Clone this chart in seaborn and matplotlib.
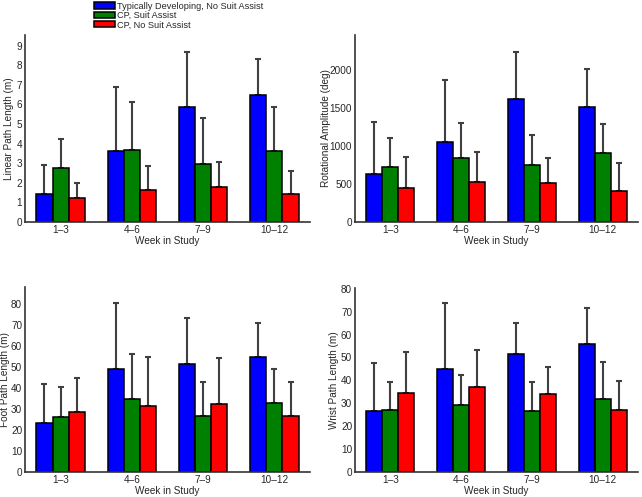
import numpy as np
import pandas as pd
import matplotlib
matplotlib.use("Agg")
import matplotlib.pyplot as plt
import seaborn as sns

weeks = ["1\u20133", "4\u20136", "7\u20139", "10\u201312"]
groups = ["Typically Developing, No Suit Assist", "CP, Suit Assist", "CP, No Suit Assist"]
colors = ["#0000ff", "#008000", "#ff0000"]

# Linear path length (m): means and upper error-bar tops
linear_td = [1.45, 3.61, 5.85, 6.48]
linear_td_top = [2.90, 6.87, 8.66, 8.33]
linear_cps = [2.77, 3.68, 2.97, 3.61]
linear_cps_top = [4.23, 6.10, 5.30, 5.86]
linear_cpn = [1.23, 1.63, 1.80, 1.43]
linear_cpn_top = [2.01, 2.86, 3.07, 2.62]

# Rotational amplitude (deg)
rot_td = [637, 1049, 1624, 1518]
rot_td_top = [1319, 1876, 2243, 2022]
rot_cps = [730, 841, 752, 907]
rot_cps_top = [1106, 1310, 1150, 1296]
rot_cpn = [451, 527, 509, 407]
rot_cpn_top = [858, 929, 845, 779]

# Foot path length (m)
foot_td = [23.4, 49.3, 51.6, 55.1]
foot_td_top = [42.0, 80.6, 73.3, 71.3]
foot_cps = [26.3, 34.7, 26.5, 33.1]
foot_cps_top = [40.4, 56.1, 42.9, 49.0]
foot_cpn = [28.7, 31.7, 32.5, 26.9]
foot_cpn_top = [45.0, 54.7, 54.5, 43.1]

# Wrist path length (m)
wrist_td = [26.7, 44.9, 51.6, 55.7]
wrist_td_top = [47.4, 73.6, 65.2, 71.4]
wrist_cps = [27.0, 29.1, 26.5, 31.9]
wrist_cps_top = [39.3, 42.2, 39.3, 48.1]
wrist_cpn = [34.3, 37.2, 34.1, 27.1]
wrist_cpn_top = [52.5, 53.3, 45.7, 39.7]

sns.set_theme(style="white")
plt.rcParams["font.family"] = ["Liberation Sans", "DejaVu Sans"]

fig = plt.figure(figsize=(6.42, 4.97), dpi=100)

panels = [
    ([0.0389, 0.5533, 0.444, 0.3763], "Linear Path Length (m)",
     (linear_td, linear_cps, linear_cpn), (linear_td_top, linear_cps_top, linear_cpn_top),
     9.54, np.arange(0, 10, 1), -0.039),
    ([0.553, 0.5533, 0.441, 0.3763], "Rotational Amplitude (deg)",
     (rot_td, rot_cps, rot_cpn), (rot_td_top, rot_cps_top, rot_cpn_top),
     2465, [0, 500, 1000, 1500, 2000], -0.085),
    ([0.0389, 0.0503, 0.444, 0.372], "Foot Path Length (m)",
     (foot_td, foot_cps, foot_cpn), (foot_td_top, foot_cps_top, foot_cpn_top),
     88.2, np.arange(0, 90, 10), -0.052),
    ([0.553, 0.0503, 0.441, 0.3702], "Wrist Path Length (m)",
     (wrist_td, wrist_cps, wrist_cpn), (wrist_td_top, wrist_cps_top, wrist_cpn_top),
     80.3, np.arange(0, 90, 10), -0.057),
]

txtc = "#262626"
axes = []
for rect, ylabel, means, tops, ymax, yticks, lx in panels:
    ax = fig.add_axes(rect)
    rows = []
    for g, m, t in zip(groups, means, tops):
        for w, mv, tv in zip(weeks, m, t):
            rows.append({"week": w, "group": g, "mean": mv, "top": tv})
    df = pd.DataFrame(rows)
    sns.barplot(data=df, x="week", y="mean", hue="group", hue_order=groups,
                order=weeks, palette=colors, width=0.68, errorbar=None,
                edgecolor="black", linewidth=1.1, saturation=1, ax=ax, legend=True)
    # one-sided error bars drawn from bar positions
    cont = list(ax.containers)
    for gi, bars in enumerate(cont):
        for bi, bar in enumerate(bars):
            x = bar.get_x() + bar.get_width() / 2
            m = means[gi][bi]
            t = tops[gi][bi]
            ax.errorbar([x], [m], yerr=[[0], [t - m]], fmt="none",
                        ecolor="#404040", elinewidth=1.5, capsize=2,
                        capthick=1.5, zorder=1)
    for bars in cont:
        for bar in bars:
            bar.set_zorder(2)
    ax.set_xlim(-0.5, 3.5)
    ax.set_ylim(0, ymax)
    ax.set_yticks(yticks)
    ax.set_ylabel(ylabel, fontsize=7.2, color=txtc)
    ax.yaxis.set_label_coords(lx, 0.5)
    ax.set_xlabel("Week in Study", fontsize=7.2, color=txtc, labelpad=1)
    ax.tick_params(axis="both", length=0, labelsize=7.2, colors=txtc, pad=2)
    for s in ["top", "right"]:
        ax.spines[s].set_visible(False)
    for s in ["left", "bottom"]:
        ax.spines[s].set_color("#333333")
        ax.spines[s].set_linewidth(1.2)
    handles, labels = ax.get_legend_handles_labels()
    if ax.get_legend() is not None:
        ax.get_legend().remove()
    axes.append((ax, handles, labels))

_, handles, labels = axes[0]
leg = fig.legend(handles, labels, loc="upper left", bbox_to_anchor=(0.138, 1.008),
                 frameon=False, fontsize=6.6, handlelength=2.3, handleheight=0.7,
                 handletextpad=0.2, labelspacing=0.05, borderpad=0.1)
for t in leg.get_texts():
    t.set_color(txtc)

fig.savefig("out.png", dpi=100)
